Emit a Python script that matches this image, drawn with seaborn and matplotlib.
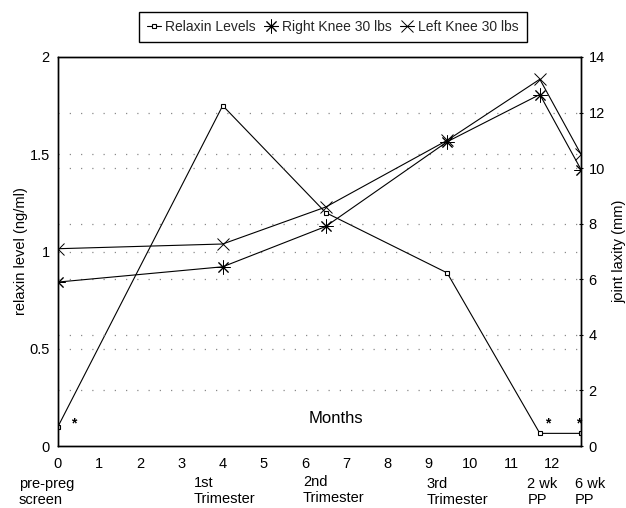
import matplotlib
matplotlib.use("Agg")
import matplotlib.pyplot as plt
import matplotlib.transforms as mtransforms
from matplotlib.ticker import FormatStrFormatter
import seaborn as sns

# Measurement months and the values recorded at each visit
months = [0, 4, 6.5, 9.45, 11.7, 12.7]
relaxin = [0.1, 1.75, 1.2, 0.89, 0.065, 0.065]          # ng/ml
right_knee = [5.9, 6.45, 7.9, 10.95, 12.65, 9.95]       # mm
left_knee = [7.1, 7.27, 8.6, 11.0, 13.2, 10.5]          # mm

series_names = ["Relaxin Levels", "Right Knee 30 lbs", "Left Knee 30 lbs"]
stage_labels = ["pre-preg\nscreen", "1st\nTrimester", "2nd\nTrimester",
                "3rd\nTrimester", "2 wk\nPP", "6 wk\nPP"]
signif_months = [0.39, 11.88, 12.65]

sns.set_theme(style="white")
plt.rcParams["font.family"] = ["Liberation Sans", "DejaVu Sans"]

W, H = 626, 508
fig = plt.figure(figsize=(W / 100, H / 100), dpi=100)
ax = fig.add_axes([58 / W, 1 - 446 / H, (581 - 58) / W, (446 - 57) / H])
ax2 = ax.twinx()

# dotted reference lines for both scales
dot = dict(color="#8a8a8a", lw=0.9, ls=(0, (1, 8)), zorder=0)
for v in [0.5, 1.0, 1.5]:
    ax.axhline(v, **dot)
for v in [2, 4, 6, 8, 10, 12]:
    ax2.axhline(v, **dot)

sns.lineplot(x=months, y=relaxin, ax=ax, color="black", lw=0.8,
             marker="s", markersize=3.5, markerfacecolor="white",
             markeredgecolor="black", markeredgewidth=0.8,
             label=series_names[0], legend=False, sort=False)
sns.lineplot(x=months, y=right_knee, ax=ax2, color="black", lw=0.8,
             marker=(8, 2, 0), markersize=10, markeredgewidth=0.7,
             markeredgecolor="black",
             label=series_names[1], legend=False, sort=False)
sns.lineplot(x=months, y=left_knee, ax=ax2, color="black", lw=0.8,
             marker="x", markersize=8, markeredgewidth=0.7,
             markeredgecolor="black",
             label=series_names[2], legend=False, sort=False)

ax.set_xlim(0, 12.7)
ax.set_ylim(0, 2)
ax2.set_ylim(0, 14)
ax.set_xticks(range(13))
ax.set_yticks([0, 0.5, 1, 1.5, 2])
ax.yaxis.set_major_formatter(FormatStrFormatter("%g"))
ax2.set_yticks(range(0, 15, 2))

for a in (ax, ax2):
    for s in a.spines.values():
        s.set_color("black")
        s.set_linewidth(1.0)
ax.tick_params(axis="x", length=0, pad=8, labelsize=10.5, colors="black")
ax.tick_params(axis="y", length=0, pad=6, labelsize=10.5, colors="black")
ax2.tick_params(axis="y", length=3, width=0.8, pad=4, labelsize=10.5,
                colors="black", direction="inout")

ax.set_xlabel("")
ax.set_ylabel("relaxin level (ng/ml)", fontsize=10.5, color="black", labelpad=1)
ax2.set_ylabel("joint laxity (mm)", fontsize=10.5, color="black", labelpad=5)

ax.text(6.75, 0.14, "Months", ha="center", va="center", fontsize=12,
        color="black")
for m in signif_months:
    ax.text(m, 0.115, "*", ha="center", va="center", fontsize=10,
            fontweight="bold", color="black")

# visit stage names under the month axis
trans = mtransforms.blended_transform_factory(ax.transData, fig.transFigure)
stage_x = [-0.95, 3.3, 5.95, 8.95, 11.4, 12.55]
stage_y = [477, 476, 475, 477, 477, 477]
for lbl, sx, sy in zip(stage_labels, stage_x, stage_y):
    ax.text(sx, 1 - sy / H, lbl, transform=trans, ha="left", va="top",
            fontsize=10.5, linespacing=1.15, color="black", clip_on=False)

h1, l1 = ax.get_legend_handles_labels()
h2, l2 = ax2.get_legend_handles_labels()
leg = fig.legend(h1 + h2, l1 + l2, loc="center",
                 bbox_to_anchor=(333 / W, 1 - 27 / H), ncol=3, fontsize=10,
                 frameon=True, fancybox=False, edgecolor="black",
                 framealpha=1, handlelength=1.0, handletextpad=0.3,
                 columnspacing=0.6, borderpad=0.6)
leg.get_frame().set_linewidth(1.0)

fig.savefig("out.png", dpi=100)
